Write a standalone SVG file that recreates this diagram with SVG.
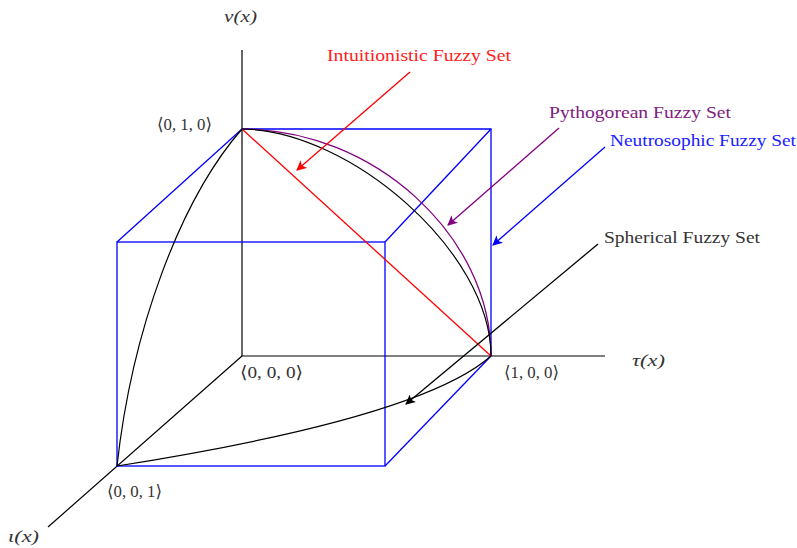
<svg xmlns="http://www.w3.org/2000/svg" width="797" height="548" viewBox="0 0 797 548">
<style>
text{font-family:"Liberation Serif","DejaVu Serif",serif;font-size:17px;fill:#333}
.it{font-style:italic}
.ax{stroke:#000;stroke-width:1.2;fill:none}
.cube{stroke:#0000ff;stroke-width:1.3;fill:none}
.crv{stroke:#000;stroke-width:1.2;fill:none}
</style>
<defs>
<marker id="ar" viewBox="0 0 10 10" refX="9" refY="5" markerWidth="10" markerHeight="10" markerUnits="userSpaceOnUse" orient="auto"><path d="M0,0 L10,5 L0,10 L2.5,5 z" fill="#000"/></marker>
<marker id="ar-r" viewBox="0 0 10 10" refX="9" refY="5" markerWidth="10" markerHeight="10" markerUnits="userSpaceOnUse" orient="auto"><path d="M0,0 L10,5 L0,10 L2.5,5 z" fill="#ff0000"/></marker>
<marker id="ar-p" viewBox="0 0 10 10" refX="9" refY="5" markerWidth="10" markerHeight="10" markerUnits="userSpaceOnUse" orient="auto"><path d="M0,0 L10,5 L0,10 L2.5,5 z" fill="#800080"/></marker>
<marker id="ar-b" viewBox="0 0 10 10" refX="9" refY="5" markerWidth="10" markerHeight="10" markerUnits="userSpaceOnUse" orient="auto"><path d="M0,0 L10,5 L0,10 L2.5,5 z" fill="#0000ff"/></marker>
</defs>
<g id="axes">
<line class="ax" x1="242" y1="50" x2="242" y2="356"/>
<line class="ax" x1="242" y1="356" x2="605" y2="356"/>
<line class="ax" x1="242" y1="356" x2="48" y2="527"/>
</g>
<g id="cube">
<polyline class="cube" points="242,129 491,129 491,356"/>
<rect class="cube" x="117" y="242" width="268" height="224"/>
<line class="cube" x1="242" y1="129" x2="117" y2="242"/>
<line class="cube" x1="491" y1="129" x2="385" y2="242"/>
<line class="cube" x1="491" y1="356" x2="385" y2="466"/>
</g>
<g id="curves">
<line x1="242" y1="129" x2="491" y2="356" stroke="#ff0000" stroke-width="1.3"/>
<path d="M242,129 C373,129 491,235 491,356" stroke="#800080" stroke-width="1.3" fill="none"/>
<path class="crv" d="M242,129 C350,130 491,252 491,356"/>
<path class="crv" d="M117,466 C132,330 180,200 242,129"/>
<path class="crv" d="M117,466 C250,445 430,410 491,356"/>
</g>
<g id="connectors">
<line x1="410" y1="72" x2="297" y2="170" stroke="#ff0000" stroke-width="1.3" marker-end="url(#ar-r)"/>
<line x1="559" y1="128" x2="448" y2="225" stroke="#800080" stroke-width="1.3" marker-end="url(#ar-p)"/>
<line x1="605" y1="147" x2="493" y2="245" stroke="#0000ff" stroke-width="1.3" marker-end="url(#ar-b)"/>
<line x1="598" y1="244" x2="406" y2="404" stroke="#000" stroke-width="1.3" marker-end="url(#ar)"/>
</g>
<g id="labels">
<text class="it" x="224" y="22" textLength="33" lengthAdjust="spacingAndGlyphs">ν(x)</text>
<text class="it" x="632" y="366" textLength="33" lengthAdjust="spacingAndGlyphs">τ(x)</text>
<text class="it" x="8" y="542" textLength="31" lengthAdjust="spacingAndGlyphs" style="font-size:16px">ι(x)</text>
<text x="157" y="130" textLength="55" lengthAdjust="spacingAndGlyphs">⟨0, 1, 0⟩</text>
<text x="240" y="378" textLength="63" lengthAdjust="spacingAndGlyphs">⟨0, 0, 0⟩</text>
<text x="504" y="378" textLength="55" lengthAdjust="spacingAndGlyphs">⟨1, 0, 0⟩</text>
<text x="107" y="497" textLength="55" lengthAdjust="spacingAndGlyphs">⟨0, 0, 1⟩</text>
<text x="327" y="61" textLength="184" lengthAdjust="spacingAndGlyphs" style="fill:#ff2020">Intuitionistic Fuzzy Set</text>
<text x="549" y="118" textLength="182" lengthAdjust="spacingAndGlyphs" style="fill:#802080">Pythogorean Fuzzy Set</text>
<text x="610" y="146" textLength="186" lengthAdjust="spacingAndGlyphs" style="fill:#2020ff">Neutrosophic Fuzzy Set</text>
<text x="604" y="243" textLength="156" lengthAdjust="spacingAndGlyphs">Spherical Fuzzy Set</text>
</g>
</svg>
